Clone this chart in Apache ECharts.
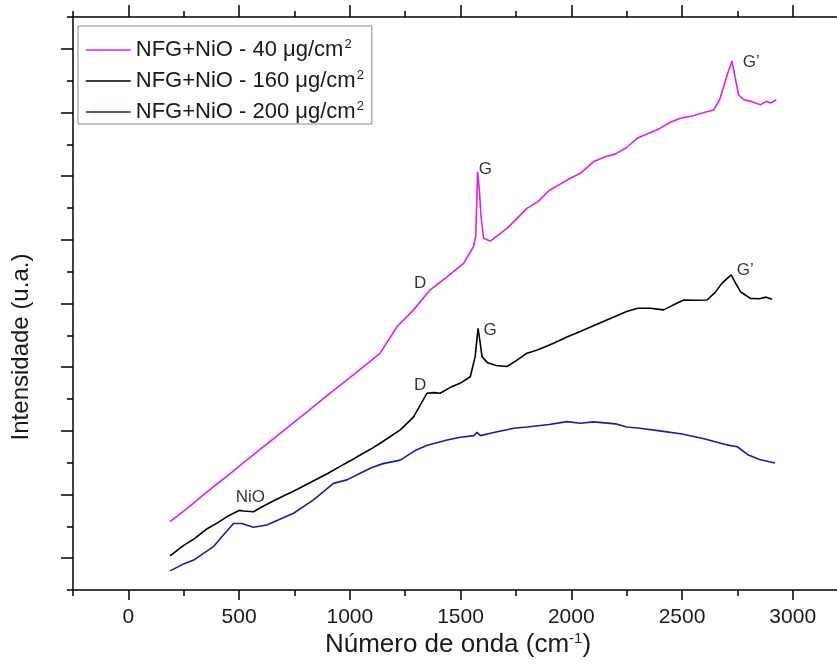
<!DOCTYPE html>
<html>
<head>
<meta charset="utf-8">
<script src="https://cdn.jsdelivr.net/npm/echarts@6/dist/echarts.min.js"></script>
<style>
  html, body { margin: 0; padding: 0; background: #fff; }
  #chart { width: 837px; height: 671px; }
</style>
</head>
<body>
<div id="chart"></div>
<script>
var seriesNames = ['NFG+NiO - 40 μg/cm2', 'NFG+NiO - 160 μg/cm2', 'NFG+NiO - 200 μg/cm2'];

// 40 ug/cm2 (magenta)
var x40 = [188, 250, 300, 350, 400, 450, 500, 550, 600, 650, 700, 750, 800, 850, 900, 950, 1000, 1050, 1100, 1137,
  1213, 1288, 1363, 1439, 1514, 1559, 1569, 1577, 1585, 1592, 1604, 1634, 1710, 1800, 1850, 1900, 1950, 2000, 2041,
  2100, 2150, 2200, 2250, 2300, 2350, 2400, 2450, 2493, 2550, 2600, 2643, 2670, 2688, 2705, 2726, 2740, 2756, 2780,
  2810, 2854, 2880, 2900, 2926];
var y40 = [2.15, 2.48, 2.76, 3.05, 3.33, 3.6, 3.88, 4.17, 4.45, 4.72, 5.0, 5.28, 5.56, 5.84, 6.12, 6.4, 6.67, 6.95, 7.23, 7.44,
  8.27, 8.8, 9.43, 9.84, 10.26, 10.79, 11.15, 13.14, 12.57, 11.78, 11.05, 10.96, 11.36, 11.99, 12.2, 12.55, 12.75, 12.95, 13.09,
  13.45, 13.6, 13.7, 13.9, 14.2, 14.35, 14.5, 14.7, 14.82, 14.9, 15.0, 15.08, 15.4, 15.81, 16.2, 16.62, 16.1, 15.55, 15.4,
  15.35, 15.24, 15.35, 15.3, 15.4];

// 160 ug/cm2 (black)
var x160 = [188, 250, 300, 350, 400, 450, 475, 500, 520, 565, 600, 650, 700, 750, 800, 850, 900, 950, 1000, 1047, 1100, 1137,
  1228, 1288, 1348, 1380, 1408, 1450, 1500, 1544, 1566, 1579, 1588, 1597, 1620, 1660, 1710, 1750, 1800, 1850, 1920, 1980, 2041,
  2100, 2150, 2200, 2250, 2300, 2357, 2417, 2460, 2508, 2560, 2613, 2650, 2681, 2722, 2745, 2764, 2809, 2850, 2880, 2907];
var y160 = [1.07, 1.4, 1.62, 1.9, 2.1, 2.32, 2.41, 2.5, 2.48, 2.46, 2.6, 2.78, 2.95, 3.12, 3.3, 3.48, 3.66, 3.86, 4.05, 4.24, 4.45, 4.61,
  5.03, 5.44, 6.18, 6.2, 6.18, 6.35, 6.5, 6.7, 7.33, 8.22, 7.8, 7.33, 7.15, 7.05, 7.02, 7.2, 7.44, 7.55, 7.75, 7.95, 8.12,
  8.3, 8.45, 8.6, 8.75, 8.85, 8.85, 8.8, 8.95, 9.11, 9.1, 9.11, 9.35, 9.64, 9.9, 9.6, 9.37, 9.16, 9.15, 9.2, 9.13];

// 200 ug/cm2 (blue)
var x200 = [188, 250, 295, 384, 429, 475, 512, 565, 625, 746, 836, 926, 987, 1047, 1100, 1150, 1228, 1300, 1350, 1439, 1500,
  1560, 1574, 1590, 1650, 1740, 1800, 1900, 1981, 2041, 2100, 2150, 2200, 2250, 2300, 2400, 2500, 2600, 2700, 2750, 2800, 2850, 2920];
var y200 = [0.6, 0.82, 0.94, 1.36, 1.73, 2.09, 2.09, 1.97, 2.04, 2.41, 2.83, 3.35, 3.46, 3.67, 3.85, 3.97, 4.08, 4.4, 4.55, 4.71, 4.8,
  4.85, 4.95, 4.85, 4.95, 5.08, 5.12, 5.2, 5.29, 5.24, 5.28, 5.25, 5.22, 5.12, 5.09, 5.0, 4.9, 4.75, 4.56, 4.5, 4.24, 4.1, 3.99];

// peak annotations
var annText = ['NiO', 'D', 'D', 'G', 'G', 'G’', 'G’'];
var annX = [551, 1318, 1318, 1612, 1634, 2813, 2786];
var annY = [2.92, 9.64, 6.44, 13.2, 8.17, 16.59, 10.05];

var xMajor = [0, 500, 1000, 1500, 2000, 2500, 3000];
var xMinor = [-250, 250, 750, 1250, 1750, 2250, 2750];
var yMajor = [1, 3, 5, 7, 9, 11, 13, 15, 17];
var yMinor = [0, 2, 4, 6, 8, 10, 12, 14, 16, 18];

function pairs(xs, ys) {
  return xs.map(function (x, i) { return [x, ys[i]]; });
}

var font = 'Liberation Sans, Arial, sans-serif';
var axisLine = { show: true, onZero: false, lineStyle: { color: '#000', width: 1.5 } };
var noLine = { show: false, onZero: false };

function xAx(pos, ticks, len, labels, line) {
  return {
    type: 'value', position: pos, min: -250, max: 3200,
    axisLine: line ? axisLine : noLine,
    axisTick: { show: true, length: len, customValues: ticks, lineStyle: { color: '#000', width: 1.5 } },
    axisLabel: labels ? {
      show: true, customValues: ticks, fontSize: 21, color: '#1a1a1a', fontFamily: font, margin: 17,
      formatter: function (v) { return String(v); }
    } : { show: false },
    splitLine: { show: false }
  };
}
function yAx(ticks, len, line) {
  return {
    type: 'value', position: 'left', min: 0, max: 18,
    axisLine: line ? axisLine : noLine,
    axisTick: { show: true, length: len, customValues: ticks, lineStyle: { color: '#000', width: 1.5 } },
    axisLabel: { show: false },
    splitLine: { show: false }
  };
}

var colors = ['#e020e0', '#000000', '#1c1ca8'];
var lines = [pairs(x40, y40), pairs(x160, y160), pairs(x200, y200)];

var series = lines.map(function (d, i) {
  return {
    name: seriesNames[i], type: 'line', data: d, symbol: 'none',
    lineStyle: { color: colors[i], width: 1.6 }, itemStyle: { color: colors[i] },
    xAxisIndex: 0, yAxisIndex: 0
  };
});
series.push({
  type: 'scatter', silent: true, symbolSize: 0, xAxisIndex: 0, yAxisIndex: 0,
  data: annX.map(function (x, i) { return [x, annY[i], annText[i]]; }),
  label: {
    show: true, position: 'inside', color: '#000', fontSize: 17, fontFamily: font,
    formatter: function (p) { return p.data[2]; }
  }
});

var chart = echarts.init(document.getElementById('chart'));
chart.setOption({
  animation: false,
  backgroundColor: '#fff',
  grid: { left: 73, right: 0, top: 17, bottom: 81 },
  xAxis: [
    xAx('bottom', xMajor, 10, true, true),
    xAx('bottom', xMinor, 6, false, false),
    xAx('top', xMajor, 12, false, true),
    xAx('top', xMinor, 6, false, false)
  ],
  yAxis: [
    yAx(yMajor, 12, true),
    yAx(yMinor, 6, false)
  ],
  legend: {
    data: seriesNames, orient: 'vertical', left: 78, top: 26,
    padding: [12, 8, 0, 7], itemWidth: 45, itemHeight: 14, itemGap: 7,
    backgroundColor: '#fff', borderColor: '#8a8a8a', borderWidth: 1, borderRadius: 0,
    itemStyle: { opacity: 0 },
    lineStyle: { width: 1.5 },
    formatter: function (n) { return n.replace('cm2', 'cm{sup|2}'); },
    textStyle: {
      fontSize: 22, color: '#1a1a1a', fontFamily: font, lineHeight: 24,
      rich: { sup: { fontSize: 13, verticalAlign: 'top', lineHeight: 24, padding: [0, 0, 10, 1], fontFamily: font, color: '#1a1a1a' } }
    }
  },
  graphic: [
    {
      type: 'text', x: 21, y: 347, rotation: Math.PI / 2,
      style: { text: 'Intensidade (u.a.)', fontSize: 24, fontFamily: font, fill: '#1a1a1a', align: 'center', verticalAlign: 'middle' }
    },
    {
      type: 'text', x: 458, y: 645,
      style: {
        text: 'Número de onda (cm{sup|-1})', fontSize: 26, fontFamily: font, fill: '#1a1a1a', align: 'center', verticalAlign: 'middle',
        rich: { sup: { fontSize: 15, padding: [0, 0, 12, 0], fontFamily: font, fill: '#1a1a1a' } }
      }
    }
  ],
  series: series
});
</script>
</body>
</html>
